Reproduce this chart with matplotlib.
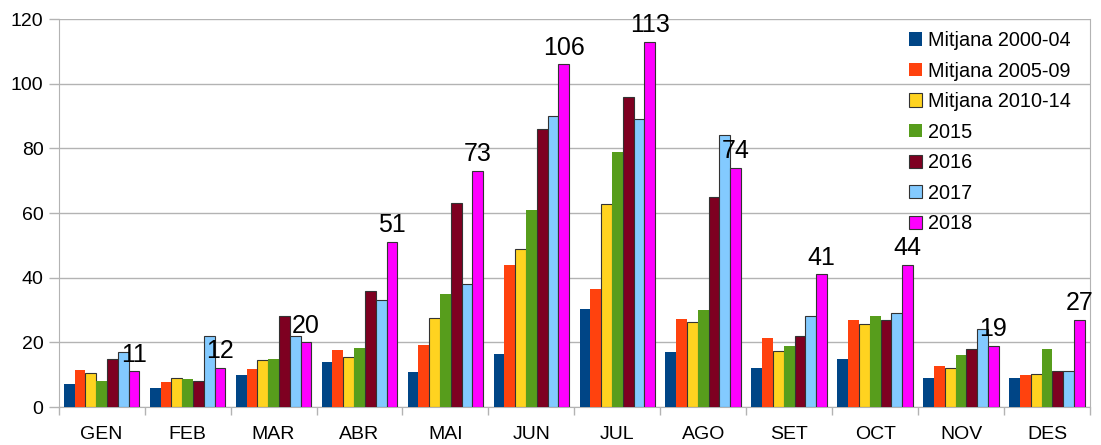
import numpy as np
import matplotlib
matplotlib.use("Agg")
import matplotlib.pyplot as plt

plt.rcParams['font.family'] = ['Liberation Sans', 'DejaVu Sans']

# Data
months = ["GEN", "FEB", "MAR", "ABR", "MAI", "JUN", "JUL", "AGO", "SET", "OCT", "NOV", "DES"]
series_names = ["Mitjana 2000-04", "Mitjana 2005-09", "Mitjana 2010-14", "2015", "2016", "2017", "2018"]

avg_2000_04 = [7.0, 6.0, 9.8, 13.9, 10.8, 16.4, 30.2, 17.0, 12.2, 14.7, 8.9, 8.9]
avg_2005_09 = [11.4, 7.6, 11.6, 17.6, 19.2, 43.8, 36.6, 27.2, 21.2, 26.8, 12.6, 9.8]
avg_2010_14 = [10.4, 9.0, 14.6, 15.6, 27.6, 48.8, 62.8, 26.2, 17.4, 25.6, 12.0, 10.3]
y2015 = [8, 8.8, 15, 18.2, 35, 61, 79, 30, 19, 28, 16, 18]
y2016 = [15, 8, 28, 36, 63, 86, 96, 65, 22, 27, 18, 11]
y2017 = [17, 22, 22, 33, 38, 90, 89, 84, 28, 29, 24, 11]
y2018 = [11, 12, 20, 51, 73, 106, 113, 74, 41, 44, 19, 27]

all_series = [avg_2000_04, avg_2005_09, avg_2010_14, y2015, y2016, y2017, y2018]
colors = ["#004586", "#ff420e", "#ffd320", "#579d1c", "#7e0021", "#83caff", "#ff00ff"]
outlined = [False, False, True, False, True, True, True]

fig = plt.figure(figsize=(11.01, 4.45), dpi=100)
ax = fig.add_axes([58.7 / 1101, 1 - 407 / 445, (1090 - 58.7) / 1101, 388 / 445])

x = np.arange(len(months))
n = len(all_series)
group = 0.88
w = group / n

for i, (vals, name, c, ol) in enumerate(zip(all_series, series_names, colors, outlined)):
    pos = x - group / 2 + w * (i + 0.5)
    ax.bar(pos, vals, width=w, color=c, label=name,
           edgecolor="#333333" if ol else c, linewidth=0.8 if ol else 0, zorder=3)
    if name == "2018":
        for px, v in zip(pos, vals):
            ax.annotate(f"{v:g}", (px, v), xytext=(0, 7), textcoords="offset points",
                        ha="center", va="baseline", fontsize=18, color="black", zorder=5)

ax.set_xlim(-0.5, len(months) - 0.5)
ax.set_ylim(0, 120)
ax.set_yticks(np.arange(0, 121, 20))
ax.yaxis.grid(True, color="#b3b3b3", linewidth=1)
ax.set_axisbelow(True)

ax.set_xticks(np.arange(-0.5, len(months), 1))
ax.set_xticklabels([])
ax.set_xticks(x, minor=True)
ax.set_xticklabels(months, minor=True)
ax.tick_params(axis="x", which="major", length=6, color="#b3b3b3", width=1)
ax.tick_params(axis="x", which="minor", length=0, pad=14, labelsize=14)
ax.tick_params(axis="y", length=7, color="#b3b3b3", width=1, pad=4, labelsize=14)

for side in ["left", "bottom", "right", "top"]:
    ax.spines[side].set_color("#b3b3b3")
ax.spines["top"].set_visible(False)

leg = ax.legend(loc="upper left", bbox_to_anchor=(909 / 1101, 1 - 31 / 445),
                bbox_transform=fig.transFigure, frameon=False, fontsize=14.3,
                handlelength=0.64, handleheight=0.64, handletextpad=0.3,
                labelspacing=0.58, borderpad=0, borderaxespad=0)

fig.savefig("out.png", dpi=100)
